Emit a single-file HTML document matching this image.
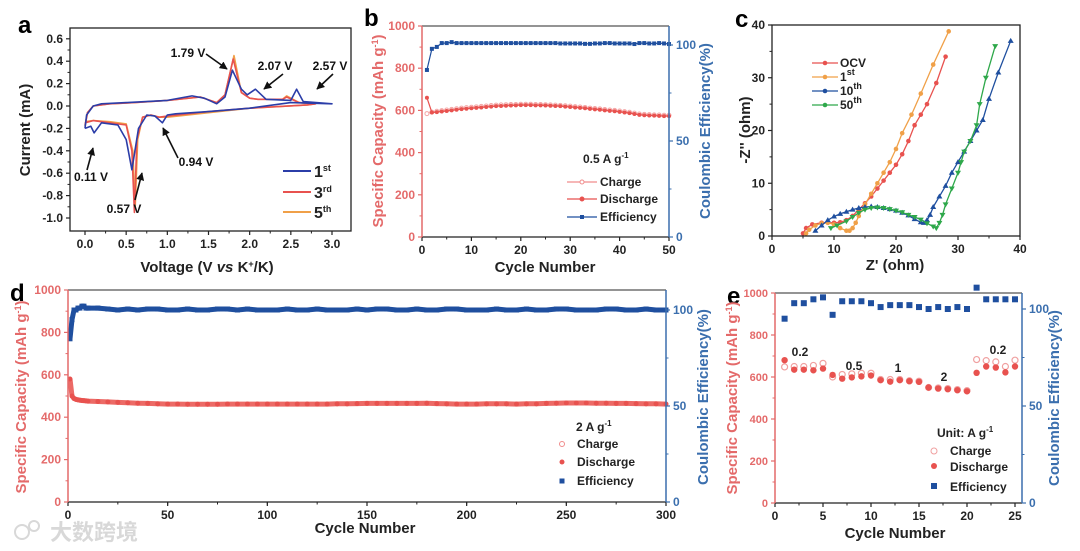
<!DOCTYPE html>
<html><head><meta charset="utf-8"><style>
body{margin:0;background:#fff;}
svg{display:block;font-family:"Liberation Sans",Arial,sans-serif;font-weight:bold;}
</style></head><body>
<svg id="chart" width="1080" height="551" viewBox="0 0 1080 551" xmlns="http://www.w3.org/2000/svg">
<rect x="0" y="0" width="1080" height="551" fill="#fff"/>
<g fill="#d8d8d8" font-size="22" font-family="'Liberation Sans','Noto Sans CJK SC',sans-serif">
<circle cx="22" cy="532" r="7" fill="none" stroke="#d8d8d8" stroke-width="2"/><circle cx="34" cy="526" r="5" fill="none" stroke="#d8d8d8" stroke-width="2"/>
<text x="50" y="540">大数跨境</text></g>
</svg>
<script>
const CV_V1=[0.0,0.02,0.1,0.2,0.5,1.0,1.3,1.45,1.6,1.7,1.79,1.9,1.97,2.07,2.2,2.5,2.57,2.65,3.0,2.5,2.0,1.5,1.1,1.0,0.94,0.85,0.75,0.65,0.57,0.5,0.4,0.2,0.11,0.07,0.0];
const CV_I1=[-0.20,-0.08,0.0,0.02,0.03,0.05,0.09,0.07,0.02,0.08,0.32,0.15,0.10,0.15,0.06,0.05,0.15,0.04,0.02,0.03,-0.02,-0.05,-0.07,-0.08,-0.15,-0.09,-0.08,-0.20,-0.57,-0.30,-0.17,-0.15,-0.24,-0.18,-0.20];
const CV_V3=[0.0,0.03,0.1,0.3,0.6,1.0,1.4,1.6,1.7,1.8,1.9,2.0,2.1,2.4,2.45,2.6,2.8,2.7,2.0,1.5,1.0,0.9,0.8,0.7,0.63,0.6,0.57,0.5,0.3,0.1,0.0];
const CV_I3=[-0.18,-0.06,0.0,0.02,0.03,0.05,0.08,0.03,0.1,0.42,0.12,0.07,0.06,0.06,0.08,0.03,0.02,0.01,-0.02,-0.05,-0.09,-0.10,-0.08,-0.1,-0.3,-0.95,-0.4,-0.17,-0.15,-0.13,-0.15];
const CV_V5=[0.0,0.03,0.1,0.3,0.6,1.0,1.4,1.6,1.7,1.81,1.9,2.0,2.1,2.4,2.45,2.6,2.8,2.7,2.0,1.5,1.0,0.9,0.8,0.7,0.64,0.61,0.58,0.5,0.3,0.1,0.0];
const CV_I5=[-0.17,-0.06,0.0,0.02,0.03,0.05,0.08,0.03,0.1,0.45,0.12,0.07,0.06,0.06,0.09,0.03,0.02,0.01,-0.02,-0.06,-0.10,-0.10,-0.08,-0.1,-0.3,-0.9,-0.4,-0.16,-0.14,-0.13,-0.14];

const B_DIS=[660,590,592,595,597,600,603,606,608,610,612,614,616,618,620,621,622,623,624,625,625,625,624,624,623,622,621,620,618,616,614,612,610,607,605,603,600,598,596,593,590,587,583,579,577,576,575,574,573,573];
const B_CHG=[585,592,596,599,602,605,608,611,613,615,617,619,621,623,625,626,627,628,628,629,629,629,628,628,627,626,625,624,622,620,618,616,614,611,609,607,604,602,600,597,594,591,587,583,581,580,579,578,577,577];
const B_EFF=[87,98,99,101,101,101.5,101,101,101,101,101,101,101,101,101,101,101,101,101,101,101,101,101,101,101,101,101,100.8,100.8,100.8,100.8,100.8,100.6,100.6,100.8,100.8,101,101,100.8,100.8,100.8,100.8,100.5,101,101,100.8,100.8,101,100.8,100.5];

const C_OCV_X=[5,5.5,6.5,8,10,11,12,13,14,15,16,17,18,19,20,21,22,23,24,25,26.5,28];
const C_OCV_Y=[0.5,1.5,2.2,2.5,2.5,2.6,3,3.8,5,6.2,7.5,9,10.5,12,13.5,15.5,18,21,23,25,29,34];
const C_1_X=[5.5,6,7,8,9,10,11,12,12.5,13,13.5,14,15,16,17,18,19,20,21,22.5,24,26,28.5];
const C_1_Y=[0.5,1.2,2,2.4,2.5,2.2,1.5,1,1,1.5,2.5,3.8,6,8,10,12,14,16.5,19.5,23,27,32.5,38.8];
const C_10_X=[7,8,9,10,11,12,13,14,15,16,17,18,19,20,21,22,23,24,24.5,25,25.5,26,27,28,29,30,31,32,33,34,35,36.5,38.5];
const C_10_Y=[1,2,3,3.7,4.2,4.6,5,5.3,5.5,5.6,5.5,5.3,5.1,4.8,4.4,3.9,3.2,2.6,2.5,3,4,5.5,7.5,9.5,12,14,16,18,20,22,26,31,37];
const C_50_X=[9.5,10.5,12,13,14,15,16,17,18,19,20,21,22,23,24,25,26,26.5,27,27.5,28,29,30,30.5,31,32,33,33.5,34.5,36];
const C_50_Y=[1.5,2,2.8,3.6,4.4,5,5.3,5.4,5.3,5.1,4.8,4.5,4,3.6,3.1,2.4,1.8,1.5,2.5,4,6,9,12,14,16,18,21,25,30,36];

const D_CYC=[1,2,3,4,5,6,7,8,9,10,15,20,25,30,35,40,45,50,55,60,65,70,75,80,85,90,95,100,105,110,115,120,125,130,135,140,145,150,155,160,165,170,175,180,185,190,195,200,205,210,215,220,225,230,235,240,245,250,255,260,265,270,275,280,285,290,295,300];
const D_DIS=[580,500,488,484,482,480,479,478,477,476,474,472,470,468,466,465,463,462,462,461,461,461,461,462,462,462,462,462,462,462,462,462,462,462,463,463,464,465,465,465,465,465,465,466,464,463,462,462,462,463,463,463,462,463,463,465,466,467,467,467,466,466,465,465,464,463,463,462];
const D_CHG=[520,506,492,488,486,484,483,482,481,480,477,475,473,471,469,468,466,465,465,464,464,464,464,465,465,465,465,465,465,465,465,465,465,465,466,466,467,468,468,468,468,468,468,469,467,466,465,465,465,466,466,466,465,466,466,468,469,470,470,470,469,469,468,468,467,466,466,465];
const D_EFF=[85,95,100,100,101,101,102,102,101,101,101,100.5,100,100.5,100,100.5,100.5,100,100,100.5,100,100,100.5,100.5,100,100.5,100,100,100,100.5,100,100,100.5,100,100,100,100.5,100,100.5,100.5,100,100,100.5,100,100,100.5,100.5,100,100,100,100.5,100,100,100.5,100,100,100.5,100.5,100,100,100,100.5,100.5,100,100,100.5,100,100];

const E_CYC=[1,2,3,4,5,6,7,8,9,10,11,12,13,14,15,16,17,18,19,20,21,22,23,24,25];
const E_DIS=[680,635,635,632,640,610,592,598,603,607,585,578,585,580,577,550,545,542,537,532,620,650,645,622,650];
const E_CHG=[648,650,650,655,665,600,612,615,618,618,588,588,588,582,580,550,548,545,540,535,683,678,672,650,680];
const E_EFF=[95,103,103,105,106,97,104,104,104,103,101,102,102,102,101,100,101,100,101,100,111,105,105,105,105];

const NS='http://www.w3.org/2000/svg';
const svg=document.getElementById('chart');
function mk(tag,attrs,parent,name,txt){
  const e=document.createElementNS(NS,tag);
  for(const k in attrs)e.setAttribute(k,attrs[k]);
  
  
  if(txt!==undefined)e.textContent=txt;
  (parent||svg).appendChild(e);return e;
}
const RED='#e8524f',RAX='#e46a6a',BLU='#1f4f9f',BAX='#3b6fae',ORG='#f0a048',GRN='#2ea84a';
function poly(g,xs,ys,sx,sy,color,w,name){
  const pts=xs.map((x,i)=>sx(x).toFixed(1)+','+sy(ys[i]).toFixed(1)).join(' ');
  return mk('polyline',{points:pts,fill:'none',stroke:color,'stroke-width':w,'stroke-linejoin':'round'},g,name);
}
function xAxis(g,ticks,minor,sx,y,color,labels){
  ticks.forEach((t,i)=>{mk('line',{x1:sx(t),x2:sx(t),y1:y,y2:y+4,stroke:color,'stroke-width':1.2},g,'x-tick');
    mk('text',{x:sx(t),y:y+17,'font-size':12,'text-anchor':'middle',fill:'#222'},g,'x-tick-label',labels?labels[i]:String(t));});
  minor.forEach(t=>mk('line',{x1:sx(t),x2:sx(t),y1:y,y2:y+2.5,stroke:color,'stroke-width':1},g,'x-minor-tick'));
}
function yAxis(g,ticks,minor,sy,x,side,color,labelColor,labels,fs){
  const d=side==='L'?-1:1;
  ticks.forEach((t,i)=>{mk('line',{x1:x,x2:x+4*d,y1:sy(t),y2:sy(t),stroke:color,'stroke-width':1.2},g,'y-tick');
    mk('text',{x:x+7*d,y:sy(t)+4,'font-size':fs||12,'text-anchor':side==='L'?'end':'start',fill:labelColor},g,'y-tick-label',labels?labels[i]:String(t));});
  minor.forEach(t=>mk('line',{x1:x,x2:x+2.5*d,y1:sy(t),y2:sy(t),stroke:color,'stroke-width':1},g,'y-minor-tick'));
}
function rng(a,b,s){const r=[];for(let v=a;v<=b+1e-9;v+=s)r.push(+v.toFixed(3));return r;}
function vtitle(g,x,y,txt,color,size,name){
  return mk('text',{x:x,y:y,transform:`rotate(-90 ${x} ${y})`,'font-size':size||14,'text-anchor':'middle',fill:color},g,name,txt);
}
function sup(t,base,s){const ts=document.createElementNS(NS,'tspan');ts.textContent=base;t.textContent='';t.appendChild(ts);const u=document.createElementNS(NS,'tspan');u.setAttribute('dy','-6');u.setAttribute('font-size','9');u.textContent=s;t.appendChild(u);return u;}

/* ===== Panel a ===== */
(function(){
const g=mk('g',{},svg,'panel-a-cv');
const sx=v=>85+v*(247/3), sy=i=>106-i*112;
mk('text',{x:18,y:33,'font-size':24},g,'panel-label-a','a');
poly(g,CV_V5,CV_I5,sx,sy,ORG,1.6,'cv-curve-5th');
poly(g,CV_V3,CV_I3,sx,sy,RED,1.6,'cv-curve-3rd');
poly(g,CV_V1,CV_I1,sx,sy,'#2b3da8',1.6,'cv-curve-1st');
mk('rect',{x:70,y:28,width:281,height:203,fill:'none',stroke:'#222','stroke-width':1.3},g,'plot-frame');
xAxis(g,rng(0,3,0.5),rng(0.25,2.75,0.5),sx,231,'#222',['0.0','0.5','1.0','1.5','2.0','2.5','3.0']);
yAxis(g,rng(-1,0.6,0.2),rng(-0.9,0.5,0.2),sy,70,'L','#222','#222',['-1.0','-0.8','-0.6','-0.4','-0.2','0.0','0.2','0.4','0.6']);
vtitle(g,30,130,'Current (mA)','#222',15,'y-axis-title');
const xt=mk('text',{x:207,y:272,'font-size':15,'text-anchor':'middle',fill:'#222'},g,'x-axis-title','');
xt.innerHTML='Voltage (V <tspan font-style="italic">vs</tspan> K<tspan dy="-5" font-size="9">+</tspan><tspan dy="5">/K)</tspan>';
const ann=[['1.79 V',188,57,227,69,206,54],['2.07 V',275,70,264,89,283,74],['2.57 V',330,70,317,89,333,74],
['0.94 V',196,166,163,128,178,158],['0.11 V',91,181,93,148,87,170],['0.57 V',124,213,142,173,135,200]];
ann.forEach(a=>{mk('text',{x:a[1],y:a[2],'font-size':12,'text-anchor':'middle',fill:'#111'},g,'peak-annotation',a[0]);
  mk('line',{x1:a[5],y1:a[6],x2:a[3],y2:a[4],stroke:'#111','stroke-width':1.6,'marker-end':'url(#arr)'},g,'annotation-arrow');});
const L=[['1','st','#2b3da8',171],['3','rd',RED,192],['5','th',ORG,212]];
L.forEach(l=>{mk('line',{x1:283,x2:311,y1:l[3],y2:l[3],stroke:l[2],'stroke-width':2},g,'legend-line');
 const t=mk('text',{x:314,y:l[3]+6,'font-size':16,fill:'#222'},g,'legend-entry',''); sup(t,l[0],l[1]);});
})();

/* ===== Panel b ===== */
(function(){
const g=mk('g',{},svg,'panel-b-cycling');
const sx=c=>422+c*(247/50), syL=v=>237-v*0.211, syR=p=>237-p*1.92;
mk('text',{x:364,y:26,'font-size':24},g,'panel-label-b','b');
const cyc=B_DIS.map((_,i)=>i+1);
poly(g,cyc,B_CHG,sx,syL,'#f4a5a5',1.2,'charge-line');
cyc.forEach((c,i)=>mk('circle',{cx:sx(c),cy:syL(B_CHG[i]),r:2,fill:'#fff',stroke:'#f4a5a5','stroke-width':1},g,'charge-point'));
poly(g,cyc,B_DIS,sx,syL,RED,1.2,'discharge-line');
cyc.forEach((c,i)=>mk('circle',{cx:sx(c),cy:syL(B_DIS[i]),r:2,fill:RED},g,'discharge-point'));
poly(g,cyc,B_EFF,sx,syR,BLU,1.2,'efficiency-line');
cyc.forEach((c,i)=>mk('rect',{x:sx(c)-2,y:syR(B_EFF[i])-2,width:4,height:4,fill:BLU},g,'efficiency-point'));
mk('line',{x1:422,x2:669,y1:26,y2:26,stroke:'#555','stroke-width':1.2},g,'top-border');
mk('line',{x1:422,x2:669,y1:237,y2:237,stroke:'#222','stroke-width':1.3},g,'x-axis-line');
mk('line',{x1:422,x2:422,y1:26,y2:237,stroke:RAX,'stroke-width':1.5},g,'left-axis-line');
mk('line',{x1:669,x2:669,y1:26,y2:237,stroke:BAX,'stroke-width':1.5},g,'right-axis-line');
xAxis(g,rng(0,50,10),rng(5,45,10),sx,237,'#222');
yAxis(g,rng(0,1000,200),rng(100,900,200),syL,422,'L',RAX,RAX);
yAxis(g,[0,50,100],[25,75],syR,669,'R',BAX,BAX);
vtitle(g,383,131,'','',15,'left-axis-title').innerHTML='<tspan fill="'+RAX+'">Specific Capacity (mAh g<tspan dy="-5" font-size="9">-1</tspan><tspan dy="5">)</tspan></tspan>';
vtitle(g,710,131,'Coulombic Efficiency(%)',BAX,15,'right-axis-title');
mk('text',{x:545,y:272,'font-size':15,'text-anchor':'middle',fill:'#222'},g,'x-axis-title','Cycle Number');
mk('text',{x:583,y:163,'font-size':12,fill:'#222'},g,'legend-title','').innerHTML='0.5 A g<tspan dy="-5" font-size="8">-1</tspan>';
[['Charge',182,'c'],['Discharge',199,'d'],['Efficiency',217,'e']].forEach(l=>{
 const col=l[2]==='e'?BLU:(l[2]==='c'?'#f08c8c':RED);
 mk('line',{x1:567,x2:597,y1:l[1],y2:l[1],stroke:col,'stroke-width':1.2},g,'legend-line');
 if(l[2]==='e')mk('rect',{x:580,y:l[1]-2,width:4,height:4,fill:BLU},g,'legend-marker');
 else mk('circle',{cx:582,cy:l[1],r:2,fill:l[2]==='c'?'#fff':RED,stroke:col},g,'legend-marker');
 mk('text',{x:600,y:l[1]+4,'font-size':12,fill:'#222'},g,'legend-entry',l[0]);});
})();

/* ===== Panel c ===== */
(function(){
const g=mk('g',{},svg,'panel-c-eis');
const sx=z=>772+z*6.2, sy=z=>236-z*5.275;
mk('text',{x:735,y:27,'font-size':24},g,'panel-label-c','c');
const S=[[C_OCV_X,C_OCV_Y,RED,'o','eis-ocv'],[C_1_X,C_1_Y,ORG,'o','eis-1st'],[C_10_X,C_10_Y,BLU,'t','eis-10th'],[C_50_X,C_50_Y,GRN,'v','eis-50th']];
S.forEach(s=>{poly(g,s[0],s[1],sx,sy,s[2],1.3,s[4]+'-line');
 s[0].forEach((x,i)=>{const X=sx(x),Y=sy(s[1][i]);
  if(s[3]==='o')mk('circle',{cx:X,cy:Y,r:2.3,fill:s[2]},g,s[4]+'-point');
  else if(s[3]==='t')mk('polygon',{points:`${X},${Y-3} ${X-3},${Y+2} ${X+3},${Y+2}`,fill:s[2]},g,s[4]+'-point');
  else mk('polygon',{points:`${X},${Y+3} ${X-3},${Y-2} ${X+3},${Y-2}`,fill:s[2]},g,s[4]+'-point');});});
mk('rect',{x:772,y:25,width:248,height:211,fill:'none',stroke:'#222','stroke-width':1.3},g,'plot-frame');
xAxis(g,rng(0,40,10),rng(5,35,10),sx,236,'#222');
yAxis(g,rng(0,40,10),rng(5,35,10),sy,772,'L','#222','#222');
vtitle(g,750,130,"-Z'' (ohm)",'#222',15,'y-axis-title');
mk('text',{x:895,y:270,'font-size':15,'text-anchor':'middle',fill:'#222'},g,'x-axis-title',"Z' (ohm)");
[['OCV','',RED,'o',63],['1','st',ORG,'o',77],['10','th',BLU,'t',91],['50','th',GRN,'v',105]].forEach(l=>{
 mk('line',{x1:812,x2:838,y1:l[4],y2:l[4],stroke:l[2],'stroke-width':1.3},g,'legend-line');
 mk('circle',{cx:825,cy:l[4],r:2.3,fill:l[2]},g,'legend-marker');
 const t=mk('text',{x:840,y:l[4]+4,'font-size':12,fill:'#222'},g,'legend-entry','');
 if(l[1])sup(t,l[0],l[1]);else t.textContent=l[0];});
})();

/* ===== Panel d ===== */
(function(){
const g=mk('g',{},svg,'panel-d-long-cycling');
const sx=c=>68+c*(598/300), syL=v=>502-v*0.212, syR=p=>502-p*1.92;
mk('text',{x:10,y:301,'font-size':24},g,'panel-label-d','d');
poly(g,D_CYC,D_CHG,sx,syL,'#f6c0c0',2,'charge-band');
poly(g,D_CYC,D_DIS,sx,syL,'#ec6a66',5,'discharge-band');
D_CYC.forEach((c,i)=>mk('circle',{cx:sx(c),cy:syL(D_DIS[i]),r:2.5,fill:RED},g,'discharge-point'));
poly(g,D_CYC,D_EFF,sx,syR,BLU,5,'efficiency-band');
D_CYC.forEach((c,i)=>mk('rect',{x:sx(c)-2.5,y:syR(D_EFF[i])-2.5,width:5,height:5,fill:BLU},g,'efficiency-point'));
mk('line',{x1:68,x2:666,y1:290,y2:290,stroke:'#555','stroke-width':1.2},g,'top-border');
mk('line',{x1:68,x2:666,y1:502,y2:502,stroke:'#222','stroke-width':1.3},g,'x-axis-line');
mk('line',{x1:68,x2:68,y1:290,y2:502,stroke:RAX,'stroke-width':1.5},g,'left-axis-line');
mk('line',{x1:666,x2:666,y1:290,y2:502,stroke:BAX,'stroke-width':1.5},g,'right-axis-line');
xAxis(g,rng(0,300,50),rng(25,275,25),sx,502,'#222');
yAxis(g,rng(0,1000,200),rng(100,900,200),syL,68,'L',RAX,RAX);
yAxis(g,[0,50,100],[25,75],syR,666,'R',BAX,BAX);
vtitle(g,26,397,'','',15,'left-axis-title').innerHTML='<tspan fill="'+RAX+'">Specific Capacity (mAh g<tspan dy="-5" font-size="9">-1</tspan><tspan dy="5">)</tspan></tspan>';
vtitle(g,708,397,'Coulombic Efficiency(%)',BAX,15,'right-axis-title');
mk('text',{x:365,y:533,'font-size':15,'text-anchor':'middle',fill:'#222'},g,'x-axis-title','Cycle Number');
mk('text',{x:576,y:431,'font-size':12,fill:'#222'},g,'legend-title','').innerHTML='2 A g<tspan dy="-5" font-size="8">-1</tspan>';
mk('circle',{cx:562,cy:444,r:2.5,fill:'#fff',stroke:'#f08c8c'},g,'legend-marker');
mk('circle',{cx:562,cy:462,r:2.5,fill:RED},g,'legend-marker');
mk('rect',{x:559.5,y:478.5,width:5,height:5,fill:BLU},g,'legend-marker');
mk('text',{x:577,y:448,'font-size':12,fill:'#222'},g,'legend-entry','Charge');
mk('text',{x:577,y:466,'font-size':12,fill:'#222'},g,'legend-entry','Discharge');
mk('text',{x:577,y:485,'font-size':12,fill:'#222'},g,'legend-entry','Efficiency');
})();

/* ===== Panel e ===== */
(function(){
const g=mk('g',{},svg,'panel-e-rate');
const sx=c=>775+c*9.6, syL=v=>503-v*0.21, syR=p=>503-p*1.94;
mk('text',{x:727,y:304,'font-size':24},g,'panel-label-e','e');
E_CYC.forEach((c,i)=>mk('circle',{cx:sx(c),cy:syL(E_CHG[i]),r:3,fill:'#fff',stroke:'#f0a0a0','stroke-width':1.2},g,'charge-point'));
E_CYC.forEach((c,i)=>mk('circle',{cx:sx(c),cy:syL(E_DIS[i]),r:3.2,fill:RED},g,'discharge-point'));
E_CYC.forEach((c,i)=>mk('rect',{x:sx(c)-3,y:syR(E_EFF[i])-3,width:6,height:6,fill:BLU},g,'efficiency-point'));
mk('line',{x1:775,x2:1022,y1:293,y2:293,stroke:'#555','stroke-width':1.2},g,'top-border');
mk('line',{x1:775,x2:1022,y1:503,y2:503,stroke:'#222','stroke-width':1.3},g,'x-axis-line');
mk('line',{x1:775,x2:775,y1:293,y2:503,stroke:RAX,'stroke-width':1.5},g,'left-axis-line');
mk('line',{x1:1022,x2:1022,y1:293,y2:503,stroke:BAX,'stroke-width':1.5},g,'right-axis-line');
xAxis(g,rng(0,25,5),rng(2.5,22.5,5),sx,503,'#222');
yAxis(g,rng(0,1000,200),rng(100,900,200),syL,775,'L',RAX,RAX,null,11);
yAxis(g,[0,50,100],[25,75],syR,1022,'R',BAX,BAX);
vtitle(g,737,398,'','',15,'left-axis-title').innerHTML='<tspan fill="'+RAX+'">Specific Capacity (mAh g<tspan dy="-5" font-size="9">-1</tspan><tspan dy="5">)</tspan></tspan>';
vtitle(g,1059,398,'Coulombic Efficiency(%)',BAX,15,'right-axis-title');
mk('text',{x:895,y:538,'font-size':15,'text-anchor':'middle',fill:'#222'},g,'x-axis-title','Cycle Number');
[['0.2',800,356],['0.5',854,370],['1',898,372],['2',944,381],['0.2',998,354]].forEach(l=>mk('text',{x:l[1],y:l[2],'font-size':12,'text-anchor':'middle',fill:'#222'},g,'rate-label',l[0]));
mk('text',{x:937,y:437,'font-size':12,fill:'#222'},g,'legend-title','').innerHTML='Unit: A g<tspan dy="-5" font-size="8">-1</tspan>';
mk('circle',{cx:934,cy:451,r:3,fill:'#fff',stroke:'#f0a0a0'},g,'legend-marker');
mk('circle',{cx:934,cy:466,r:3,fill:RED},g,'legend-marker');
mk('rect',{x:931,y:483,width:6,height:6,fill:BLU},g,'legend-marker');
mk('text',{x:950,y:455,'font-size':12,fill:'#222'},g,'legend-entry','Charge');
mk('text',{x:950,y:471,'font-size':12,fill:'#222'},g,'legend-entry','Discharge');
mk('text',{x:950,y:491,'font-size':12,fill:'#222'},g,'legend-entry','Efficiency');
})();

const defs=document.createElementNS(NS,'defs');
defs.innerHTML='<marker id="arr" viewBox="0 0 10 10" refX="9" refY="5" markerWidth="5" markerHeight="5" orient="auto"><path d="M0,0 L10,5 L0,10 z" fill="#111"/></marker>';
svg.insertBefore(defs,svg.firstChild);
</script>
</body></html>
